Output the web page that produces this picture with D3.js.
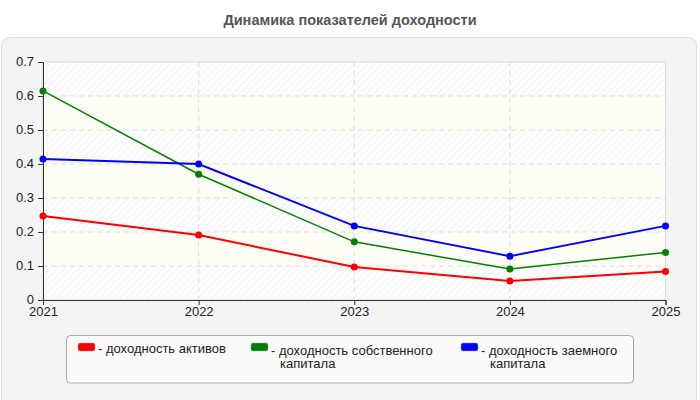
<!DOCTYPE html>
<html lang="ru">
<head>
<meta charset="UTF-8">
<title>Динамика показателей доходности</title>
<style>
    html, body { margin: 0; padding: 0; background: #fff; font-family: Arial, 'Liberation Sans', sans-serif; }
</style>
</head>
<body>
<div id="chart"></div>
<script src="https://d3js.org/d3.v7.min.js"></script>
<script>
const years = ["2021", "2022", "2023", "2024", "2025"];
const seriesNames = ["доходность активов", "доходность собственного капитала", "доходность заемного капитала"];
const seriesColors = ["#ff0000", "#008000", "#0000ff"];
const assets = [0.247, 0.191, 0.097, 0.056, 0.084];
const equity = [0.615, 0.370, 0.171, 0.091, 0.140];
const borrowed = [0.415, 0.400, 0.218, 0.129, 0.218];
const yTicks = [0, 0.1, 0.2, 0.3, 0.4, 0.5, 0.6, 0.7];

const W = 700, H = 400;
const plot = {left: 43, right: 665.5, top: 62, bottom: 300};

const svg = d3.select("#chart").append("svg")
    .attr("width", W).attr("height", H);

const defs = svg.append("defs");
const pat = defs.append("pattern")
    .attr("id", "hatch")
    .attr("patternUnits", "userSpaceOnUse")
    .attr("width", 5).attr("height", 5)
    .attr("patternTransform", "rotate(45)");
pat.append("rect").attr("width", 5).attr("height", 5).attr("fill", "#fdfdfd");
pat.append("line").attr("x1", 0).attr("y1", 0).attr("x2", 0).attr("y2", 5)
    .attr("stroke", "#ececec").attr("stroke-width", 1.2);

// panel
svg.append("rect")
    .attr("x", 1.5).attr("y", 37.5).attr("width", 695).attr("height", 380)
    .attr("rx", 8)
    .attr("fill", "#f4f4f4").attr("stroke", "#dcdcdc");

// title
svg.append("text")
    .attr("x", 350).attr("y", 25)
    .attr("text-anchor", "middle")
    .style("font-size", "14.5px").style("font-weight", "bold")
    .style("fill", "#555")
    .text("Динамика показателей доходности");

const x = d3.scalePoint().domain(years).range([plot.left, plot.right]);
const y = d3.scaleLinear().domain([0, 0.7]).range([plot.bottom, plot.top]);

// bands
const bands = d3.range(7).map(i => [i / 10, (i + 1) / 10]);
svg.append("g").selectAll("rect")
    .data(bands).enter().append("rect")
    .attr("x", plot.left).attr("width", plot.right - plot.left)
    .attr("y", d => y(d[1])).attr("height", d => y(d[0]) - y(d[1]))
    .attr("fill", (d, i) => i % 2 === 0 ? "url(#hatch)" : "#fdfdf6");

// plot border
svg.append("rect")
    .attr("x", plot.left).attr("y", plot.top)
    .attr("width", plot.right - plot.left).attr("height", plot.bottom - plot.top)
    .attr("fill", "none").attr("stroke", "#dcdcdc");

// grid
const grid = svg.append("g");
grid.selectAll(".hg").data(yTicks.slice(1, -1)).enter().append("line")
    .attr("x1", plot.left).attr("x2", plot.right)
    .attr("y1", d => y(d)).attr("y2", d => y(d))
    .attr("stroke", "#dcdcdc").attr("stroke-dasharray", "5,4");
grid.selectAll(".vg").data(years.slice(1, -1)).enter().append("line")
    .attr("y1", plot.top).attr("y2", plot.bottom)
    .attr("x1", d => x(d)).attr("x2", d => x(d))
    .attr("stroke", "#dcdcdc").attr("stroke-dasharray", "5,4");

// axes
const yAxis = svg.append("g")
    .attr("transform", `translate(${plot.left},0)`)
    .call(d3.axisLeft(y).tickValues(yTicks).tickSize(5).tickPadding(4).tickFormat(d => d === 0 ? "0" : d3.format(".1f")(d)));
const xAxis = svg.append("g")
    .attr("transform", `translate(0,${plot.bottom})`)
    .call(d3.axisBottom(x).tickSize(5).tickPadding(2));
[yAxis, xAxis].forEach(a => {
    a.select(".domain").attr("stroke", "#333");
    a.selectAll(".tick line").attr("stroke", "#333");
    a.selectAll("text").style("font-size", "13px").style("fill", "#222")
        .style("font-family", "Arial, 'Liberation Sans', sans-serif");
});
yAxis.selectAll("text").attr("dy", "0.3em");

// lines
const data = [assets, equity, borrowed];
const widths = [2, 1.5, 2];
const line = d3.line().x((d, i) => x(years[i])).y(d => y(d));
data.forEach((vals, s) => {
    svg.append("path").datum(vals)
        .attr("d", line)
        .attr("fill", "none")
        .attr("stroke", seriesColors[s])
        .attr("stroke-width", widths[s]);
    svg.append("g").selectAll("circle").data(vals).enter().append("circle")
        .attr("cx", (d, i) => x(years[i]))
        .attr("cy", d => y(d))
        .attr("r", 3.5)
        .attr("fill", seriesColors[s]);
});

// legend
svg.append("rect")
    .attr("x", 66.5).attr("y", 335.5).attr("width", 567).attr("height", 47.5)
    .attr("rx", 4)
    .attr("fill", "#fafafa").attr("stroke", "#aaa");

const legendX = [78, 251, 461];
const legendLines = [["доходность активов"], ["доходность собственного", "капитала"], ["доходность заемного", "капитала"]];
legendLines.forEach((lines, i) => {
    svg.append("rect")
        .attr("x", legendX[i]).attr("y", 343)
        .attr("width", 17).attr("height", 8).attr("rx", 2)
        .attr("fill", seriesColors[i]).attr("stroke", "#999").attr("stroke-width", 0.5);
    const t = svg.append("text")
        .attr("x", legendX[i] + 20).attr("y", i === 0 ? 353 : 355)
        .style("font-size", "13px").style("fill", "#222");
    t.append("tspan").text("- ");
    lines.forEach((l, j) => {
        if (j === 0) t.append("tspan").text(l);
        else t.append("tspan").attr("x", legendX[i] + 29).attr("dy", 13).text(l);
    });
});
</script>
</body>
</html>
